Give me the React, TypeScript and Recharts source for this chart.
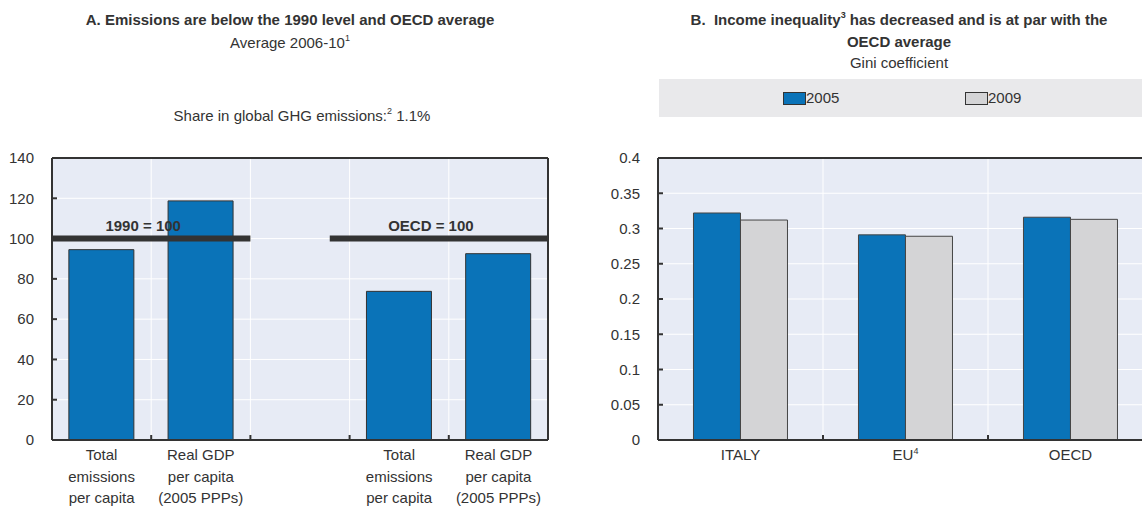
import React from 'react';
import { BarChart, Bar, XAxis, YAxis, CartesianGrid, ReferenceLine } from 'recharts';

const FONT = "'Liberation Sans', Arial, sans-serif";
const BLUE = '#0a73b8';
const GREY = '#d4d4d6';
const INK = '#333333';
const PLOT_BG = '#e7ebf5';

// Panel A: index numbers, average 2006-10
const categoriesA = [
  'Total emissions per capita',
  'Real GDP per capita (2005 PPPs)',
  '',
  'Total emissions per capita',
  'Real GDP per capita (2005 PPPs)',
];
const valuesA = [94.5, 118.7, null, 73.8, 92.5];
const ticksA = [0, 20, 40, 60, 80, 100, 120, 140];
const labelLinesA: Record<string, string[]> = {
  'Total emissions per capita': ['Total', 'emissions', 'per capita'],
  'Real GDP per capita (2005 PPPs)': ['Real GDP', 'per capita', '(2005 PPPs)'],
};
// benchmark lines, x in category slots
const benchmarks = [
  { label: '1990 = 100', from: 0, to: 2, value: 100 },
  { label: 'OECD = 100', from: 2.8, to: 5, value: 100 },
];

// Panel B: Gini coefficient
const categoriesB = ['ITALY', 'EU', 'OECD'];
const footnotesB = ['', '4', ''];
const gini2005 = [0.322, 0.291, 0.316];
const gini2009 = [0.312, 0.289, 0.313];
const ticksB = [0, 0.05, 0.1, 0.15, 0.2, 0.25, 0.3, 0.35, 0.4];
const seriesB = [
  { key: 'y2005', name: '2005', color: BLUE },
  { key: 'y2009', name: '2009', color: GREY },
];

const dataA = categoriesA.map((cat, i) => ({ cat, value: valuesA[i] }));
const dataB = categoriesB.map((cat, i) => ({ cat, y2005: gini2005[i], y2009: gini2009[i] }));

const CategoryTick = (props: any) => {
  const { x, y, payload, index, width, visibleTicksCount, footnotes } = props;
  const slot = width / visibleTicksCount;
  const lines = labelLinesA[payload.value] || [payload.value];
  const note = footnotes ? footnotes[index] : '';
  return (
    <g>
      {index < visibleTicksCount - 1 && (
        <line x1={x + slot / 2} x2={x + slot / 2} y1={y - 4} y2={y - 9} stroke={INK} strokeWidth={2} />
      )}
      <text textAnchor="middle" fill={INK} fontSize={15} fontFamily={FONT}>
        {lines.map((l: string, i: number) => (
          <tspan key={i} x={x} y={y + 16 + i * 21.5}>
            {l}
            {note && i === 0 ? <tspan dy={-6} fontSize={9}>{note}</tspan> : null}
          </tspan>
        ))}
      </text>
    </g>
  );
};

const tickStyle = { fill: INK, fontSize: 15, fontFamily: FONT };
const line = { stroke: INK, strokeWidth: 2 };

const center = (x: number, y: number, w = 500): React.CSSProperties => ({
  position: 'absolute',
  left: x - w / 2,
  top: y - 9,
  width: w,
  lineHeight: '18px',
  textAlign: 'center',
  whiteSpace: 'nowrap',
});

const sup: React.CSSProperties = { fontSize: 9, verticalAlign: 'super', lineHeight: 0, position: 'relative', top: -1 };

export default function App() {
  return (
    <div
      style={{
        position: 'absolute',
        left: 0,
        top: 0,
        width: 1142,
        height: 507,
        overflow: 'hidden',
        background: '#fff',
        fontFamily: FONT,
        fontSize: 15,
        color: INK,
      }}
    >
      <div style={{ ...center(290, 20), fontWeight: 'bold' }}>
        A. Emissions are below the 1990 level and OECD average
      </div>
      <div style={center(290, 43)}>
        Average 2006-10<span style={sup}>1</span>
      </div>
      <div style={center(302, 116)}>
        Share in global GHG emissions:<span style={sup}>2</span> 1.1%
      </div>

      <div style={{ ...center(899, 20), fontWeight: 'bold' }}>
        B.{'\u00a0\u00a0'}Income inequality<span style={sup}>3</span> has decreased and is at par with the
      </div>
      <div style={{ ...center(899, 42), fontWeight: 'bold' }}>OECD average</div>
      <div style={center(899, 63)}>Gini coefficient</div>

      <div style={{ position: 'absolute', left: 659, top: 79, width: 483, height: 38, background: '#e9e9eb' }}>
        {seriesB.map((s, i) => (
          <div key={s.key} style={{ position: 'absolute', left: 124 + i * 182, top: 10, display: 'flex', alignItems: 'center' }}>
            <span style={{ display: 'inline-block', width: 21, height: 11, background: s.color, border: `1px solid ${INK}` }} />
            <span style={{ lineHeight: '18px' }}>{s.name}</span>
          </div>
        ))}
      </div>

      <div style={{ position: 'absolute', left: 0, top: 0 }}>
        <BarChart width={600} height={507} data={dataA} margin={{ top: 158, right: 0, bottom: 0, left: 0 }} barCategoryGap="17%">
          <CartesianGrid xAxisId="pos" yAxisId="left" stroke="#ffffff" strokeWidth={1} fill={PLOT_BG} />
          <XAxis
            xAxisId="cat"
            dataKey="cat"
            interval={0}
            height={67}
            tickSize={0}
            tickMargin={4}
            tickLine={false}
            axisLine={line}
            tick={<CategoryTick />}
          />
          <XAxis xAxisId="pos" dataKey="value" type="number" domain={[0, 5]} ticks={[0, 1, 2, 3, 4, 5]} allowDataOverflow hide />
          <YAxis yAxisId="left" domain={[0, 140]} ticks={ticksA} width={52} tickSize={-5} tickMargin={23} axisLine={line} tickLine={line} tick={tickStyle} />
          <YAxis yAxisId="right" orientation="right" domain={[0, 140]} ticks={ticksA} width={52} tickSize={-5} tickMargin={23} axisLine={line} tickLine={line} tick={tickStyle} />
          <ReferenceLine xAxisId="cat" yAxisId="left" y={140} stroke={INK} strokeWidth={2} />
          <Bar xAxisId="cat" yAxisId="left" dataKey="value" fill={BLUE} stroke={INK} strokeWidth={1} isAnimationActive={false} />
          {benchmarks.map((b) => (
            <ReferenceLine
              key={b.label}
              xAxisId="pos"
              yAxisId="left"
              segment={[{ x: b.from, y: b.value }, { x: b.to, y: b.value }]}
              ifOverflow="visible"
              stroke={INK}
              strokeWidth={6}
              label={{ value: b.label, position: 'top', offset: 8, dx: -8, fill: INK, fontSize: 15, fontWeight: 'bold', fontFamily: FONT }}
            />
          ))}
        </BarChart>
      </div>

      <div style={{ position: 'absolute', left: 600, top: 0 }}>
        <BarChart width={553} height={507} data={dataB} margin={{ top: 158, right: 0, bottom: 0, left: 0 }} barCategoryGap="21.5%" barGap={0}>
          <CartesianGrid xAxisId="pos" stroke="#ffffff" strokeWidth={1} fill={PLOT_BG} />
          <XAxis
            xAxisId="cat"
            dataKey="cat"
            interval={0}
            height={67}
            tickSize={0}
            tickMargin={4}
            tickLine={false}
            axisLine={line}
            tick={<CategoryTick footnotes={footnotesB} />}
          />
          <XAxis xAxisId="pos" dataKey="y2005" type="number" domain={[0, 3]} ticks={[0, 1, 2, 3]} allowDataOverflow hide />
          <YAxis domain={[0, 0.4]} ticks={ticksB} width={58} tickSize={-5} tickMargin={23} axisLine={line} tickLine={line} tick={tickStyle} />
          <ReferenceLine xAxisId="cat" y={0.4} stroke={INK} strokeWidth={2} />
          {seriesB.map((s) => (
            <Bar key={s.key} xAxisId="cat" dataKey={s.key} name={s.name} fill={s.color} stroke="#444" strokeWidth={1} isAnimationActive={false} />
          ))}
        </BarChart>
      </div>
    </div>
  );
}
